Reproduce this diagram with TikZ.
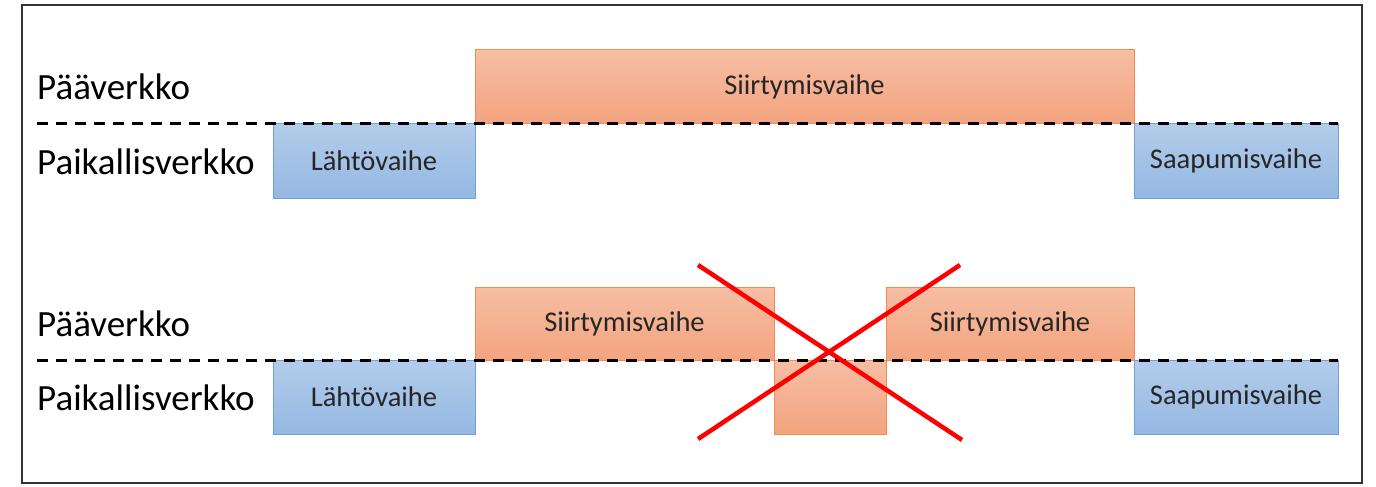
\documentclass[tikz,border=0pt]{standalone}
\usepackage{fontspec}
\setmainfont{Carlito}
\definecolor{bluetop}{HTML}{B3CCEA}
\definecolor{bluebot}{HTML}{94B8E3}
\definecolor{blueline}{HTML}{6FA0D8}
\definecolor{orangetop}{HTML}{F6BEA4}
\definecolor{orangebot}{HTML}{F3A47F}
\definecolor{orangeline}{HTML}{F28B4E}
\definecolor{textgray}{HTML}{262626}
\tikzset{
	phasebox/.style={draw, line width=1pt, inner sep=0pt, text=textgray, font=\fontsize{28.5}{30}\selectfont},
	localbox/.style={phasebox, draw=blueline, top color=bluetop, bottom color=bluebot},
	mainbox/.style={phasebox, draw=orangeline, top color=orangetop, bottom color=orangebot},
	netlabel/.style={anchor=west, inner sep=0pt, text=black, font=\fontsize{37}{40}\selectfont},
	border/.style={line width=3pt, dash pattern=on 11pt off 8pt},
	cross/.style={red, line width=4.5pt}
}
\begin{document}
\begin{tikzpicture}[x=1pt, y=-1pt]
		\useasboundingbox (0,0) rectangle (1376,487);
		\draw[line width=2pt, black!80] (22,5) rectangle (1362,483);

		% ylempi kaavio
		\node[netlabel] (main1) at (37,87) {Pääverkko};
		\node[netlabel] (local1) at (37,162) {Paikallisverkko};
		\node[mainbox, minimum width=659, minimum height=73] (trans1) at (804.5,86.5) {Siirtymisvaihe};
		\node[localbox, minimum width=202, minimum height=75] (dep1) at (374,160.5) {Lähtövaihe};
		\node[localbox, minimum width=204, minimum height=75] (arr1) at (1236,160.5) {Saapumisvaihe};
		\coordinate (b1l) at (37,123);
		\coordinate (b1r) at (1338,123);
		\draw[border] (b1l) -- (b1r);

		% alempi kaavio
		\node[netlabel] (main2) at (37,324) {Pääverkko};
		\node[netlabel] (local2) at (37,398) {Paikallisverkko};
		\node[mainbox, minimum width=299, minimum height=73] (trans2a) at (624.5,323.5) {Siirtymisvaihe};
		\node[mainbox, minimum width=112, minimum height=74] (gap) at (830,397) {};
		\node[mainbox, minimum width=248, minimum height=73] (trans2b) at (1010,323.5) {Siirtymisvaihe};
		\node[localbox, minimum width=202, minimum height=74] (dep2) at (374,397) {Lähtövaihe};
		\node[localbox, minimum width=204, minimum height=74] (arr2) at (1236,397) {Saapumisvaihe};
		\coordinate (b2l) at (37,360);
		\coordinate (b2r) at (1338,360);
		\draw[border] (b2l) -- (b2r);

		\coordinate (xtl) at (698,265);
		\coordinate (xtr) at (960,265);
		\coordinate (xbl) at (698,439);
		\coordinate (xbr) at (962,440);
		\draw[cross] (xtl) -- (xbr);
		\draw[cross] (xtr) -- (xbl);
	\end{tikzpicture}
\end{document}
